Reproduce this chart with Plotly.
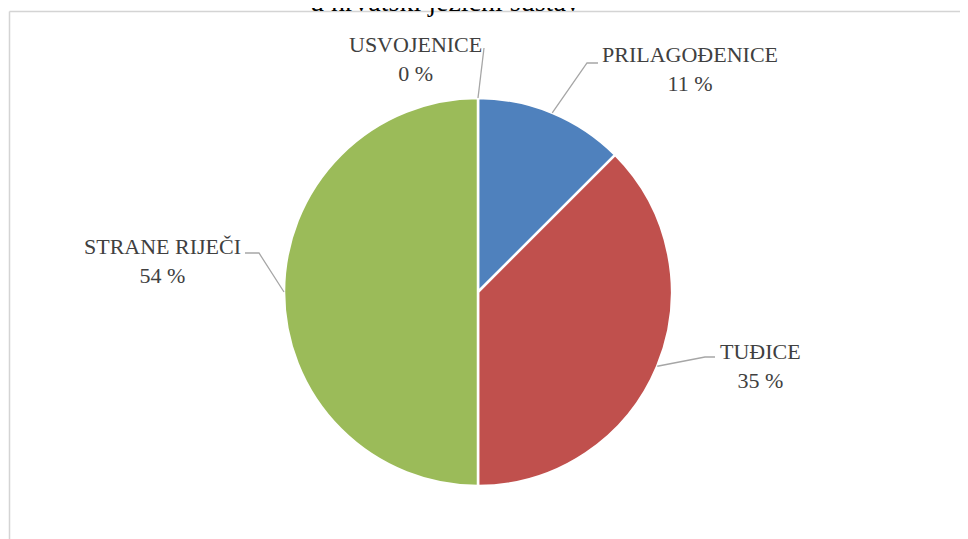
import math
import plotly.graph_objects as go

# ---- data ----
categories = ["USVOJENICE", "PRILAGOĐENICE", "TUĐICE", "STRANE RIJEČI"]
slice_shares = [0.0, 12.5, 37.5, 50.0]          # slice sizes as drawn
label_percent = ["0 %", "11 %", "35 %", "54 %"]  # printed labels
colors = ["#7f7f7f", "#4f81bd", "#c0504d", "#9bbb59"]
title_text = "u hrvatski jezični sustav"

# page body has an 8px margin; figure fills the rest of the window
OFF = 8
W, H = 968 - OFF, 539 - OFF
CX, CY, R = 478, 292, 194   # window pixel coordinates

def px(x):
    return (x - OFF) / W

def py(y):
    return 1 - (y - OFF) / H

fig = go.Figure(go.Pie(
    labels=categories,
    values=slice_shares,
    sort=False,
    direction="clockwise",
    rotation=0,
    marker=dict(colors=colors, line=dict(color="white", width=2.5)),
    textinfo="none",
    hoverinfo="label+percent",
    showlegend=False,
    domain=dict(x=[px(CX - R), px(CX + R)], y=[py(CY + R), py(CY - R)]),
))

# label layout (text centre, elbow point, end point of leader)
label_layout = [
    dict(tx=415, ty=59, elbow=None, end=(484, 48)),
    dict(tx=690, ty=69, elbow=(587, 63), end=(598, 63)),
    dict(tx=760, ty=366, elbow=(705, 357), end=(715, 357)),
    dict(tx=162, ty=261, elbow=(259, 253), end=(245, 253)),
]

total = sum(slice_shares)
cum = 0.0
annotations = []
shapes = []
for cat, share, pct, lay in zip(categories, slice_shares, label_percent, label_layout):
    mid = (cum + share / 2) / total * 2 * math.pi
    cum += share
    sx = CX + R * math.sin(mid)
    sy = CY - R * math.cos(mid)
    pts = [(sx, sy)]
    if lay["elbow"]:
        pts.append(lay["elbow"])
    pts.append(lay["end"])
    path = "M " + " L ".join(f"{px(x):.5f},{py(y):.5f}" for x, y in pts)
    shapes.append(dict(type="path", xref="paper", yref="paper", path=path,
                       line=dict(color="#a6a6a6", width=1.3)))
    annotations.append(dict(
        text=f"{cat}<br>{pct}", x=px(lay["tx"]), y=py(lay["ty"]),
        xref="paper", yref="paper", xanchor="center", yanchor="middle",
        showarrow=False, align="center",
        font=dict(family="Liberation Serif", size=22, color="#404040"),
    ))

# chart title, only its lower part is visible at the top edge
annotations.append(dict(
    text=title_text, x=px(445), y=py(1), xref="paper", yref="paper",
    xanchor="center", yanchor="middle", showarrow=False,
    font=dict(family="Liberation Serif", size=28, color="#000000"),
))

# chart area border
shapes.append(dict(type="line", xref="paper", yref="paper",
                   x0=px(9.5), y0=py(11.5), x1=px(975), y1=py(11.5),
                   line=dict(color="#d4d4d4", width=1.5)))
shapes.append(dict(type="line", xref="paper", yref="paper",
                   x0=px(9.5), y0=py(11.5), x1=px(9.5), y1=py(545),
                   line=dict(color="#d4d4d4", width=1.5)))

fig.update_layout(
    width=W, height=H,
    margin=dict(l=0, r=0, t=0, b=0),
    paper_bgcolor="white",
    plot_bgcolor="white",
    annotations=annotations,
    shapes=shapes,
)

fig.write_html("out.html")
